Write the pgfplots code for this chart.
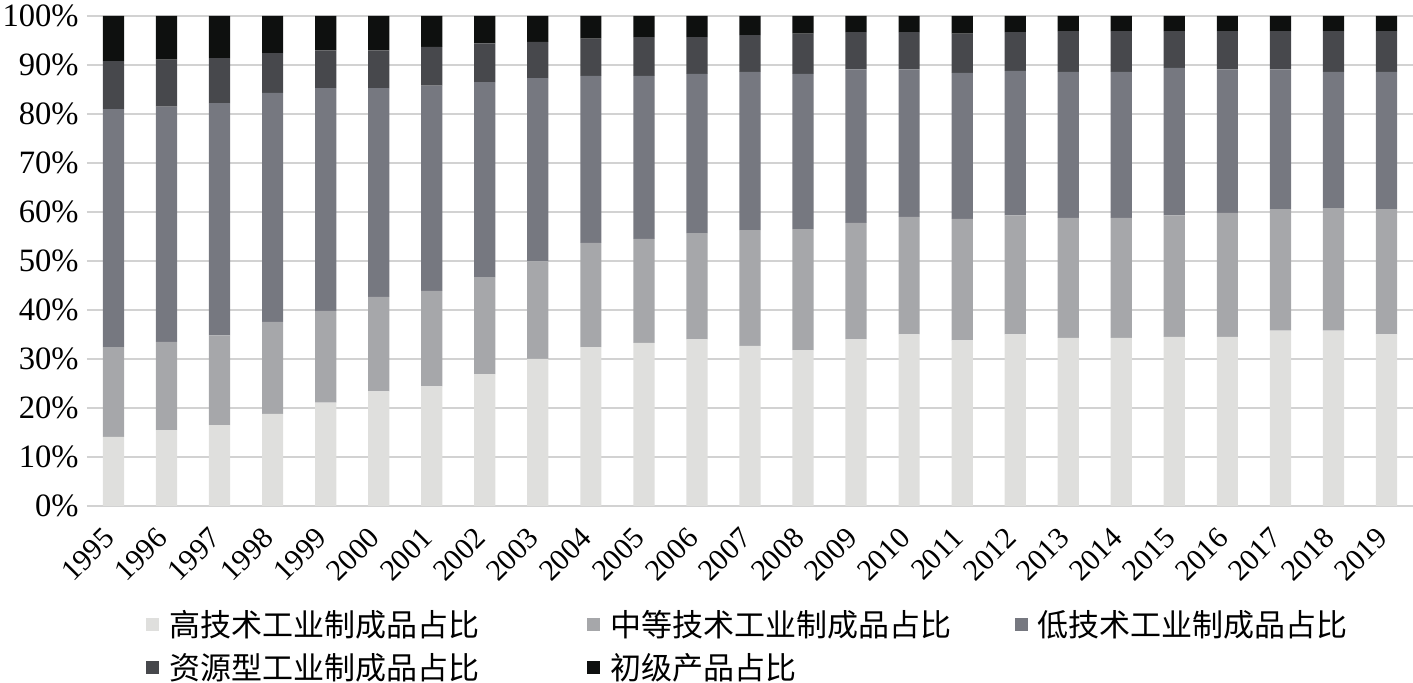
\documentclass[border=0pt]{standalone}
\usepackage{pgfplots}
\pgfplotsset{compat=1.18}
\usepackage{pgfplotstable}
\usepackage{fontspec}
\setmainfont{Liberation Serif}
\newfontfamily\cjk{Noto Sans CJK SC}
\definecolor{cH}{HTML}{DFDFDD}
\definecolor{cM}{HTML}{A6A7AA}
\definecolor{cL}{HTML}{767880}
\definecolor{cR}{HTML}{47484C}
\definecolor{cP}{HTML}{0E100F}
\definecolor{gridc}{HTML}{D2D2D2}
\pgfplotstableread{
x year H M L R P
0 1995 14.1 18.3 48.6 9.8 9.2
1 1996 15.5 18.0 48.0 9.6 8.9
2 1997 16.5 18.3 47.4 9.2 8.6
3 1998 18.8 18.8 46.7 8.1 7.6
4 1999 21.1 18.7 45.5 7.7 7.0
5 2000 23.4 19.3 42.6 7.7 7.0
6 2001 24.4 19.5 41.9 7.9 6.3
7 2002 26.9 19.8 39.8 7.9 5.6
8 2003 30.0 19.9 37.4 7.4 5.3
9 2004 32.4 21.3 34.1 7.6 4.6
10 2005 33.3 21.2 33.3 7.9 4.3
11 2006 34.0 21.7 32.5 7.5 4.3
12 2007 32.7 23.6 32.3 7.5 3.9
13 2008 31.8 24.7 31.7 8.2 3.6
14 2009 34.0 23.8 31.3 7.6 3.3
15 2010 35.0 24.0 30.1 7.6 3.3
16 2011 33.8 24.8 29.8 8.0 3.6
17 2012 35.0 24.3 29.5 7.9 3.3
18 2013 34.3 24.5 29.8 8.3 3.1
19 2014 34.3 24.5 29.8 8.3 3.1
20 2015 34.5 24.8 30.1 7.5 3.1
21 2016 34.5 25.3 29.3 7.8 3.1
22 2017 35.8 24.8 28.5 7.8 3.1
23 2018 35.8 25.0 27.8 8.3 3.1
24 2019 35.0 25.6 28.0 8.3 3.1
}\datatable
\begin{document}
\begin{tikzpicture}
\useasboundingbox (-43.5pt,-88.5pt) rectangle (663pt,253pt);
\begin{axis}[
  at={(0,0)}, anchor=south west,
  scale only axis, width=663pt, height=245pt,
  ybar stacked, bar width=0.4,
  xmin=-0.5, xmax=24.5, ymin=0, ymax=100,
  axis line style={draw=none},
  major tick length=0pt,
  ytick={0,10,...,100},
  yticklabel={\pgfmathprintnumber{\tick}\%},
  /pgf/number format/assume math mode=true,
  ymajorgrids, grid style={gridc, line width=1.1pt},
  xtick={0,...,24},
  xticklabels={1995,1996,1997,1998,1999,2000,2001,2002,2003,2004,2005,2006,2007,2008,2009,2010,2011,2012,2013,2014,2015,2016,2017,2018,2019},
  xticklabel style={xshift=-2pt, yshift=-13.5pt, rotate=45, anchor=east, inner sep=0pt, font=\fontsize{15}{16}\selectfont},
  yticklabel style={font=\fontsize{16.3}{18}\selectfont, inner sep=0pt, xshift=-4pt},
  legend columns=3,
  legend style={draw=none, fill=none, at={(axis description cs:0.04,-0.195)}, anchor=north west,
    font=\cjk\fontsize{15.5}{17}\selectfont, row sep=3pt,
    /tikz/column 2/.style={column sep=52pt},
    /tikz/column 4/.style={column sep=30pt},
    /tikz/every odd column/.append style={column sep=3pt}},
  legend cell align=left,
  legend image code/.code={\path[#1, draw=none] (0pt,-3.2pt) rectangle (6.4pt,3.2pt);},
]
\addplot[fill=cH, draw=none] table[x=x, y=H] {\datatable};
\addplot[fill=cM, draw=none] table[x=x, y=M] {\datatable};
\addplot[fill=cL, draw=none] table[x=x, y=L] {\datatable};
\addplot[fill=cR, draw=none] table[x=x, y=R] {\datatable};
\addplot[fill=cP, draw=none] table[x=x, y=P] {\datatable};
\legend{高技术工业制成品占比,中等技术工业制成品占比,低技术工业制成品占比,资源型工业制成品占比,初级产品占比}
\end{axis}
\end{tikzpicture}
\end{document}
